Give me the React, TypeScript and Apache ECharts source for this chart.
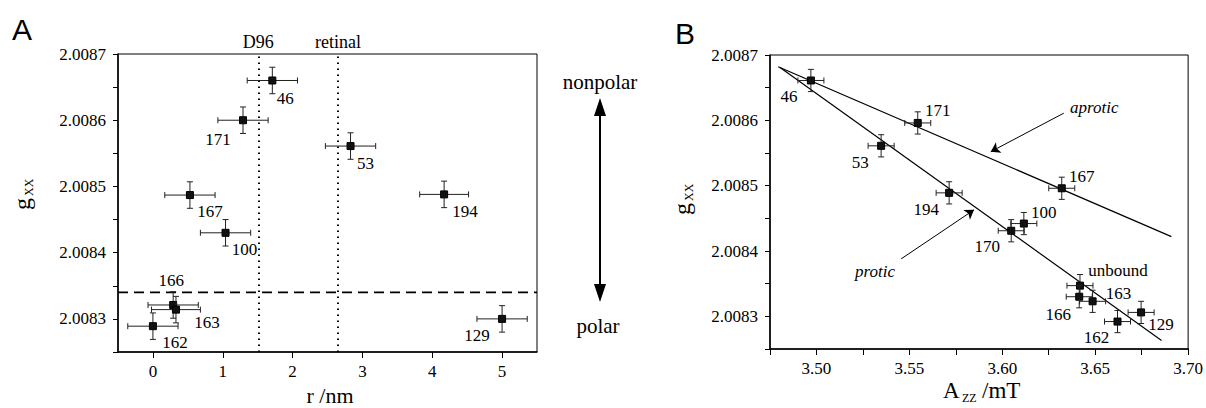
import React, { useEffect, useRef } from "react";
import * as echarts from "echarts";

// ---------- Panel A data ----------
const pointLabelsA = ["46", "171", "53", "167", "100", "166", "163", "162", "194", "129"];
const distanceA = [1.71, 1.29, 2.83, 0.53, 1.04, 0.29, 0.33, 0.0, 4.17, 5.0];
const gxxA = [2.00866, 2.0086, 2.008561, 2.008487, 2.00843, 2.008321, 2.008314, 2.008289, 2.008488, 2.0083];
const distanceErrA = [0.36, 0.36, 0.36, 0.36, 0.36, 0.36, 0.35, 0.36, 0.35, 0.36];
const gxxErrA = [0.00002, 0.00002, 0.00002, 0.00002, 0.00002, 0.00002, 0.00002, 0.00002, 0.00002, 0.00002];
const refNamesA = ["D96", "retinal"];
const refPositionsA = [1.51, 2.65];
const polarThresholdA = 2.00834;
const xRangeA = [-0.5, 5.5];
const xTickLabelsA = [0, 1, 2, 3, 4, 5];

// ---------- Panel B data ----------
const pointLabelsB = ["46", "171", "53", "194", "167", "100", "170", "unbound", "166", "163", "162", "129"];
const azzB = [3.497, 3.5545, 3.5348, 3.5714, 3.632, 3.6116, 3.6048, 3.6418, 3.6414, 3.6486, 3.662, 3.6747];
const gxxB = [2.008661, 2.008596, 2.008561, 2.008489, 2.008496, 2.008442, 2.008431, 2.008347, 2.00833, 2.008323, 2.008292, 2.008306];
const azzErrB = [0.007, 0.007, 0.007, 0.007, 0.007, 0.007, 0.007, 0.007, 0.007, 0.007, 0.007, 0.007];
const gxxErrB = [0.000017, 0.000017, 0.000017, 0.000017, 0.000017, 0.000017, 0.000017, 0.000017, 0.000017, 0.000017, 0.000017, 0.000017];
const aproticFitAzz = [3.4794, 3.691];
const aproticFitGxx = [2.008682, 2.008422];
const proticFitAzz = [3.4804, 3.6857];
const proticFitGxx = [2.008681, 2.008263];
const aproticArrowFrom = [3.6331, 2.008611];
const aproticArrowTo = [3.5938, 2.008552];
const proticArrowFrom = [3.5456, 2.008388];
const proticArrowTo = [3.5848, 2.008463];
const xTickValuesB = [3.475, 3.5, 3.525, 3.55, 3.575, 3.6, 3.625, 3.65, 3.675, 3.7];
const xTickLabelsB = [3.5, 3.55, 3.6, 3.65, 3.7];

// ---------- shared y ticks ----------
const yTickValues = [2.00825, 2.0083, 2.00835, 2.0084, 2.00845, 2.0085, 2.00855, 2.0086, 2.00865, 2.0087];
const yTickLabels = [2.0083, 2.0084, 2.0085, 2.0086, 2.0087];

// label offsets (pixels) for point annotations – styling only
const labelOffsetsA = [[13, 18], [-25, 19], [15, 17], [20, 16], [19, 17], [-2, -24], [31, 13], [22, 16], [21, 17], [-25, 17]];
const labelOffsetsB = [[-22, 16], [20, -12], [-21, 17], [-23, 17], [20, -12], [20, -11], [-24, 16], [38, -15], [-21, 18], [26, -8], [-21, 16], [20, 12]];

const SERIF = "'Liberation Serif', 'Times New Roman', serif";
const SANS = "'Liberation Sans', Arial, sans-serif";

function makeRender(labels: string[], offsets: number[][]) {
  return (params: any, api: any) => {
    const x = api.value(0);
    const y = api.value(1);
    const ex = api.value(2);
    const ey = api.value(3);
    const c = api.coord([x, y]);
    const l = api.coord([x - ex, y]);
    const r = api.coord([x + ex, y]);
    const t = api.coord([x, y + ey]);
    const b = api.coord([x, y - ey]);
    const cap = 3;
    const st = { stroke: "#222", lineWidth: 1 };
    const off = offsets[params.dataIndex] || [12, 12];
    return {
      type: "group",
      children: [
        { type: "line", shape: { x1: l[0], y1: c[1], x2: r[0], y2: c[1] }, style: st },
        { type: "line", shape: { x1: l[0], y1: c[1] - cap, x2: l[0], y2: c[1] + cap }, style: st },
        { type: "line", shape: { x1: r[0], y1: c[1] - cap, x2: r[0], y2: c[1] + cap }, style: st },
        { type: "line", shape: { x1: c[0], y1: t[1], x2: c[0], y2: b[1] }, style: st },
        { type: "line", shape: { x1: c[0] - cap, y1: t[1], x2: c[0] + cap, y2: t[1] }, style: st },
        { type: "line", shape: { x1: c[0] - cap, y1: b[1], x2: c[0] + cap, y2: b[1] }, style: st },
        {
          type: "rect",
          shape: { x: c[0] - 3.5, y: c[1] - 3.5, width: 7, height: 7 },
          style: { fill: "#111", stroke: "#000", lineWidth: 1 },
        },
        {
          type: "text",
          x: c[0] + off[0],
          y: c[1] + off[1],
          style: {
            text: labels[params.dataIndex],
            fontSize: 17,
            fontFamily: SERIF,
            fill: "#000",
            align: "center",
            verticalAlign: "middle",
          },
        },
      ],
    };
  };
}

const fmt4 = (v: number) => v.toFixed(4);
const fmt2 = (v: number) => v.toFixed(2);

function yAxisCfg(gridIndex: number) {
  return {
    gridIndex,
    type: "value",
    min: 2.00825,
    max: 2.0087,
    interval: 0.00005,
    axisLine: { show: true, onZero: false, lineStyle: { color: "#000", width: 1.5 } },
    axisTick: { show: true, length: 5, lineStyle: { color: "#000" }, customValues: yTickValues },
    axisLabel: {
      color: "#000",
      fontSize: 17,
      fontFamily: SERIF,
      margin: 12,
      customValues: yTickLabels,
      formatter: fmt4,
    },
    splitLine: { show: false },
  };
}

export default function App() {
  const ref = useRef<HTMLDivElement>(null);

  useEffect(() => {
    document.body.style.margin = "0";
    if (!ref.current) return;
    const chart = echarts.init(ref.current, undefined, { renderer: "svg" });

    const dataA = distanceA.map((r, i) => [r, gxxA[i], distanceErrA[i], gxxErrA[i]]);
    const dataB = azzB.map((a, i) => [a, gxxB[i], azzErrB[i], gxxErrB[i]]);

    const option: any = {
      animation: false,
      backgroundColor: "#fff",
      grid: [
        { left: 118, top: 54, width: 419, height: 298, show: true, borderColor: "#000", borderWidth: 1 },
        { left: 770, top: 55, width: 421, height: 294, show: true, borderColor: "#000", borderWidth: 1 },
      ],
      xAxis: [
        {
          gridIndex: 0,
          type: "value",
          min: -0.5,
          max: 5.5,
          interval: 0.5,
          axisLine: { show: true, onZero: false, lineStyle: { color: "#000", width: 1.5 } },
          axisTick: { show: true, length: 6, lineStyle: { color: "#000" }, customValues: xTickLabelsA },
          axisLabel: { color: "#000", fontSize: 17, fontFamily: SERIF, margin: 11, customValues: xTickLabelsA },
          splitLine: { show: false },
        },
        {
          gridIndex: 1,
          type: "value",
          min: 3.475,
          max: 3.7,
          interval: 0.025,
          axisLine: { show: true, onZero: false, lineStyle: { color: "#000", width: 1.5 } },
          axisTick: { show: true, length: 6, lineStyle: { color: "#000" }, customValues: xTickValuesB },
          axisLabel: {
            color: "#000",
            fontSize: 17,
            fontFamily: SERIF,
            margin: 11,
            customValues: xTickLabelsB,
            formatter: fmt2,
          },
          splitLine: { show: false },
        },
      ],
      yAxis: [yAxisCfg(0), yAxisCfg(1)],
      series: [
        {
          type: "line",
          xAxisIndex: 0,
          yAxisIndex: 0,
          data: xRangeA.map((x) => [x, polarThresholdA]),
          symbol: "none",
          silent: true,
          lineStyle: { color: "#000", type: [10, 6], width: 1.8 },
          markLine: {
            silent: true,
            symbol: "none",
            animation: false,
            data: refPositionsA.map((p, i) => ({
              xAxis: p,
              lineStyle: { color: "#000", type: [1.5, 4.5], width: 2 },
              label: {
                show: true,
                position: "end",
                formatter: refNamesA[i],
                color: "#000",
                fontSize: 18,
                fontFamily: SERIF,
                distance: 3,
              },
            })),
          },
        },
        {
          type: "custom",
          xAxisIndex: 0,
          yAxisIndex: 0,
          data: dataA,
          encode: { x: 0, y: 1 },
          renderItem: makeRender(pointLabelsA, labelOffsetsA),
          z: 5,
        },
        {
          type: "line",
          xAxisIndex: 1,
          yAxisIndex: 1,
          data: aproticFitAzz.map((a, i) => [a, aproticFitGxx[i]]),
          symbol: "none",
          lineStyle: { color: "#000", width: 1.2 },
          silent: true,
          markLine: {
            silent: true,
            symbol: ["none", "arrow"],
            symbolSize: 9,
            label: { show: false },
            lineStyle: { color: "#000", type: "solid", width: 1 },
            data: [
              [{ coord: aproticArrowFrom }, { coord: aproticArrowTo }],
              [{ coord: proticArrowFrom }, { coord: proticArrowTo }],
            ],
          },
        },
        {
          type: "line",
          xAxisIndex: 1,
          yAxisIndex: 1,
          data: proticFitAzz.map((a, i) => [a, proticFitGxx[i]]),
          symbol: "none",
          lineStyle: { color: "#000", width: 1.2 },
          silent: true,
        },
        {
          type: "custom",
          xAxisIndex: 1,
          yAxisIndex: 1,
          data: dataB,
          encode: { x: 0, y: 1 },
          renderItem: makeRender(pointLabelsB, labelOffsetsB),
          z: 5,
        },
      ],
      graphic: [
        { type: "text", x: 22, y: 29, style: { text: "A", fontSize: 30, fontFamily: SANS, fill: "#000", align: "center", verticalAlign: "middle" } },
        { type: "text", x: 685, y: 33, style: { text: "B", fontSize: 30, fontFamily: SANS, fill: "#000", align: "center", verticalAlign: "middle" } },
        // y titles
        {
          type: "group",
          x: 22,
          y: 194,
          rotation: Math.PI / 2,
          children: [
            { type: "text", x: -16, y: 0, style: { text: "g", fontSize: 24, fontFamily: SERIF, fill: "#000", align: "left", verticalAlign: "middle" } },
            { type: "text", x: -2, y: 7, style: { text: "XX", fontSize: 12, fontFamily: SERIF, fill: "#000", align: "left", verticalAlign: "middle" } },
          ],
        },
        {
          type: "group",
          x: 682,
          y: 199,
          rotation: Math.PI / 2,
          children: [
            { type: "text", x: -16, y: 0, style: { text: "g", fontSize: 24, fontFamily: SERIF, fill: "#000", align: "left", verticalAlign: "middle" } },
            { type: "text", x: -2, y: 7, style: { text: "XX", fontSize: 12, fontFamily: SERIF, fill: "#000", align: "left", verticalAlign: "middle" } },
          ],
        },
        // x titles
        { type: "text", x: 330, y: 395, style: { text: "r /nm", fontSize: 22, fontFamily: SERIF, fill: "#000", align: "center", verticalAlign: "middle" } },
        { type: "text", x: 943, y: 390, style: { text: "A", fontSize: 23, fontFamily: SERIF, fill: "#000", align: "left", verticalAlign: "middle" } },
        { type: "text", x: 962, y: 398, style: { text: "ZZ", fontSize: 12, fontFamily: SERIF, fill: "#000", align: "left", verticalAlign: "middle" } },
        { type: "text", x: 982, y: 390, style: { text: "/mT", fontSize: 23, fontFamily: SERIF, fill: "#000", align: "left", verticalAlign: "middle" } },
        // polarity arrow
        { type: "text", x: 600, y: 82, style: { text: "nonpolar", fontSize: 21, fontFamily: SERIF, fill: "#000", align: "center", verticalAlign: "middle" } },
        { type: "text", x: 598, y: 326, style: { text: "polar", fontSize: 21, fontFamily: SERIF, fill: "#000", align: "center", verticalAlign: "middle" } },
        { type: "line", shape: { x1: 600, y1: 112, x2: 600, y2: 288 }, style: { stroke: "#000", lineWidth: 2 } },
        { type: "polygon", shape: { points: [[600, 98], [594, 116], [606, 116]] }, style: { fill: "#000" } },
        { type: "polygon", shape: { points: [[600, 302], [594, 284], [606, 284]] }, style: { fill: "#000" } },
        // fit annotations
        { type: "text", x: 1070, y: 107, style: { text: "aprotic", fontSize: 17, fontStyle: "italic", fontFamily: SERIF, fill: "#000", align: "left", verticalAlign: "middle" } },
        { type: "text", x: 895, y: 271, style: { text: "protic", fontSize: 17, fontStyle: "italic", fontFamily: SERIF, fill: "#000", align: "right", verticalAlign: "middle" } },
      ],
    };

    chart.setOption(option);
    return () => chart.dispose();
  }, []);

  return <div ref={ref} style={{ width: 1206, height: 408 }} />;
}
